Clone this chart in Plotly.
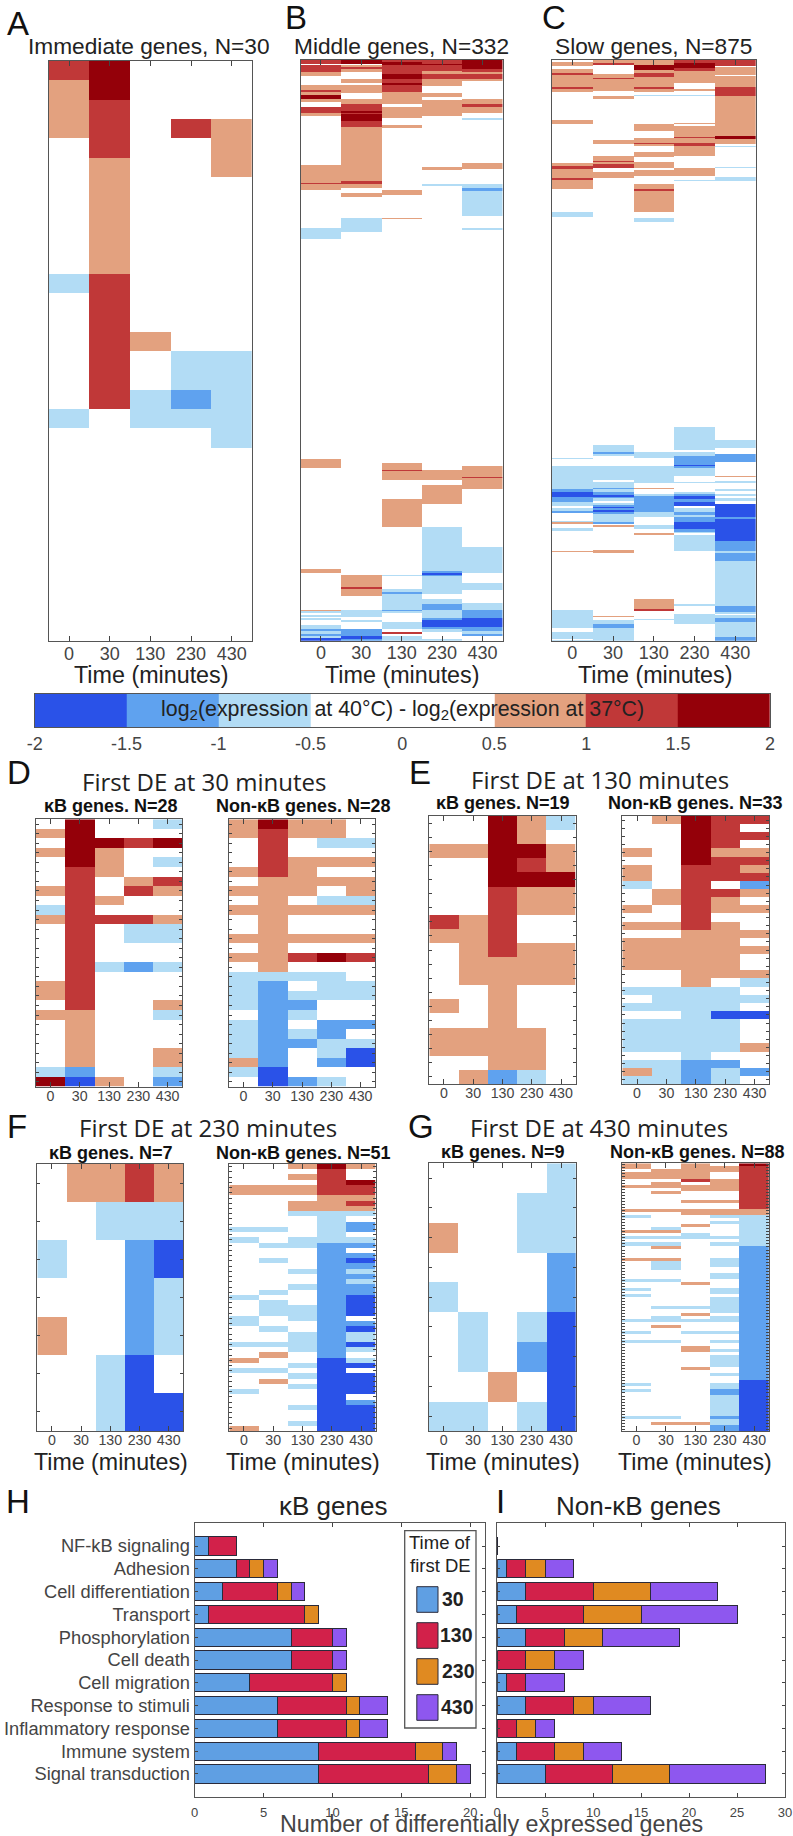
import numpy as np
import plotly.graph_objects as go

W, H = 793, 1836
TIMES = ["0", "30", "130", "230", "430"]
LEVELS = [-3, -2, -1, 0, 1, 2, 3]
LEVEL_COLORS = ["#2a52e8", "#5fa2ef", "#b2dcf5", "#ffffff", "#e3a17f", "#c03838", "#940009"]
CBAR_EDGES = [-2, -1.5, -1, -0.5, 0.5, 1, 1.5, 2]
CBAR_TICKS = [-2, -1.5, -1, -0.5, 0, 0.5, 1, 1.5, 2]

# Panel A: rows of expression classes
A_ROWS = [
 [2,3,0,0,0],[1,3,0,0,0],[1,2,0,0,0],[1,2,0,2,1],[0,2,0,0,1],[0,1,0,0,1],[0,1,0,0,0],[0,1,0,0,0],
 [0,1,0,0,0],[0,1,0,0,0],[0,1,0,0,0],[-1,2,0,0,0],[0,2,0,0,0],[0,2,0,0,0],[0,2,1,0,0],[0,2,0,-1,-1],
 [0,2,0,-1,-1],[0,2,-1,-2,-1],[-1,0,-1,-1,-1],[0,0,0,0,-1],[0,0,0,0,0],[0,0,0,0,0],[0,0,0,0,0],
 [0,0,0,0,0],[0,0,0,0,0],[0,0,0,0,0],[0,0,0,0,0],[0,0,0,0,0],[0,0,0,0,0],[0,0,0,0,0]]

# Panels B, C: per time point, runs of (end row, class)
B_T0 = [(2,2),(3,0),(7,2),(9,1),(14,0),(17,1),(18,2),(20,1),(22,3),(24,1),(27,0),(30,2),(32,1),(60,0),(70,1),(71,2),(74,1),(96,0),(102,-1),(228,0),(233,1),(291,0),(293,1),(314,0),(315,1),(316,-1),(317,0),(318,-1),(319,0),(320,-1),(323,0),(325,-1),(326,-2),(328,-1),(329,-2),(330,-1),(332,-3)]
B_T1 = [(2,3),(3,0),(4,1),(5,2),(7,1),(11,0),(13,1),(14,0),(19,1),(22,0),(25,1),(29,2),(30,3),(31,2),(35,3),(38,2),(69,1),(71,2),(73,1),(76,0),(78,1),(90,0),(98,-1),(294,0),(301,1),(302,2),(306,1),(314,0),(318,-1),(320,0),(321,-1),(325,0),(329,-2),(331,-3),(332,-2)]
B_T2 = [(1,2),(3,3),(8,2),(11,3),(13,2),(14,3),(18,2),(25,1),(27,0),(33,1),(37,0),(39,1),(74,0),(77,1),(90,0),(91,1),(230,0),(234,1),(235,2),(240,1),(251,0),(267,1),(294,0),(295,-1),(302,0),(304,-1),(305,-2),(314,-1),(315,-2),(316,-1),(321,0),(325,-1),(327,0),(328,2),(329,0),(332,-1)]
B_T3 = [(2,2),(3,3),(6,2),(8,1),(11,2),(15,1),(19,0),(21,1),(23,0),(32,1),(61,0),(63,1),(71,0),(72,-1),(234,0),(240,1),(243,0),(254,1),(267,0),(292,-1),(293,-2),(294,-3),(295,-2),(305,-1),(308,0),(311,-1),(314,-2),(319,-1),(320,-2),(324,-3),(325,-2),(327,-1),(331,0),(332,-1)]
B_T4 = [(5,3),(7,2),(8,1),(11,2),(12,1),(22,0),(25,1),(27,2),(30,1),(33,0),(34,-1),(59,0),(62,1),(71,0),(73,-1),(75,-2),(89,-1),(96,0),(97,-1),(232,0),(238,1),(239,2),(245,1),(278,0),(293,-1),(299,0),(303,-1),(310,0),(314,-1),(319,-2),(324,-3),(326,-2),(328,-1),(329,-2),(332,0)]

C_T0 = [(3,0),(9,1),(14,0),(20,1),(23,2),(41,1),(43,2),(48,1),(91,0),(97,1),(155,0),(160,1),(164,2),(178,1),(180,2),(195,1),(229,0),(237,-1),(599,0),(601,-1),(605,0),(606,1),(612,0),(629,-1),(630,-2),(646,-1),(650,-2),(658,-3),(660,-2),(665,-2),(671,-1),(675,0),(679,-1),(682,-2),(694,0),(696,-1),(699,1),(705,0),(709,-1),(739,0),(741,1),(828,0),(840,-1),(841,-2),(855,-1),(862,0),(872,-1),(873,0),(875,-1)]
C_T1 = [(4,1),(7,2),(21,0),(27,1),(28,2),(47,1),(54,0),(58,1),(120,0),(127,1),(144,0),(152,1),(153,2),(157,1),(162,2),(163,1),(168,0),(178,1),(580,0),(591,-1),(593,-2),(596,-1),(611,0),(632,-1),(636,0),(644,-1),(646,-2),(651,-1),(655,-2),(658,-3),(660,-2),(664,-1),(667,0),(670,-1),(673,-2),(675,-3),(678,-2),(680,-3),(683,-2),(696,-1),(699,-2),(701,0),(703,1),(712,0),(713,1),(738,0),(742,1),(837,0),(839,1),(843,0),(850,-1),(856,-2),(875,-1)]
C_T2 = [(7,1),(15,3),(20,1),(26,2),(41,1),(43,2),(48,1),(52,0),(54,-1),(97,0),(107,1),(117,0),(125,1),(127,2),(129,1),(138,0),(146,1),(154,0),(162,1),(165,0),(174,1),(186,0),(194,1),(197,2),(229,1),(238,0),(244,-1),(591,0),(599,-1),(612,0),(637,-1),(644,0),(646,1),(654,0),(657,-1),(681,-2),(688,-1),(701,0),(706,-1),(712,0),(715,1),(812,0),(827,1),(830,2),(842,0),(844,-1),(849,0),(850,-1),(875,0)]
C_T3 = [(4,2),(12,3),(16,2),(34,1),(44,0),(46,1),(53,0),(54,-1),(95,0),(97,1),(99,0),(116,1),(117,2),(125,1),(130,2),(145,1),(162,0),(175,1),(180,0),(182,-1),(553,0),(587,-1),(591,0),(596,-1),(610,-2),(612,-3),(615,-2),(627,-1),(635,0),(637,-1),(651,0),(654,-1),(657,-2),(661,-3),(666,-2),(671,-3),(675,0),(680,-1),(685,-2),(689,-1),(696,-2),(706,-3),(711,-2),(713,-1),(715,0),(740,-1),(819,0),(822,-1),(834,0),(850,-1),(875,0)]
C_T4 = [(9,2),(11,0),(22,1),(24,0),(41,1),(54,2),(114,1),(119,3),(127,1),(129,0),(131,-1),(161,0),(163,-1),(176,0),(182,-1),(573,0),(584,-1),(594,0),(606,-2),(626,0),(628,1),(634,0),(637,-1),(646,0),(649,-1),(654,0),(656,-1),(660,0),(664,-1),(669,0),(688,-3),(691,-2),(724,-3),(740,-2),(742,-1),(754,-2),(822,-1),(831,-2),(834,-1),(836,0),(840,-1),(847,-2),(869,-1),(875,-2)]

D_KB = [[0,3,0,0,-1],[1,3,0,0,0],[0,3,3,2,3],[1,3,1,0,0],[0,3,1,0,-1],[0,2,1,0,0],[0,2,0,1,2],[1,2,0,2,1],[0,2,1,0,0],[-1,2,0,0,0],[1,2,2,2,1],[0,2,0,-1,-1],[0,2,0,-1,-1],[0,2,0,0,0],[0,2,0,0,0],[0,2,-1,-2,-1],[0,2,0,0,0],[1,2,0,0,0],[1,2,0,0,0],[0,2,0,0,1],[1,1,0,0,-1],[0,1,0,0,0],[0,1,0,0,0],[0,1,0,0,0],[0,1,0,0,1],[0,1,0,0,1],[-1,-2,0,0,-1],[3,-3,1,0,-2]]
D_NON = [[1,3,1,1,0],[1,2,1,1,0],[0,2,0,-1,-1],[0,2,0,0,0],[0,2,1,1,1],[1,2,1,0,0],[0,1,1,1,1],[1,1,1,0,1],[0,1,0,-1,-1],[1,1,1,1,1],[0,1,0,0,0],[0,1,0,0,0],[1,1,1,1,1],[0,1,0,0,0],[1,1,2,3,2],[0,1,0,0,0],[-1,-1,-1,-1,0],[-1,-2,0,-1,-1],[-1,-2,-1,-1,-1],[-1,-2,-2,0,0],[0,-2,-1,0,0],[-1,-2,0,-2,-2],[-1,-2,-1,-2,0],[-1,-2,-2,-1,-1],[-1,-2,0,-1,-3],[1,-2,0,-2,-3],[-1,-3,0,0,0],[0,-3,-2,-1,0]]
E_KB = [[0,0,3,1,-1],[0,0,3,1,0],[1,1,3,3,1],[0,0,3,2,1],[0,0,3,3,3],[0,0,2,1,1],[0,0,2,1,1],[2,1,2,0,0],[1,1,2,0,0],[0,1,2,1,1],[0,1,1,1,1],[0,1,1,1,1],[0,0,1,0,0],[1,0,1,0,0],[0,0,1,0,0],[1,1,1,1,0],[1,1,1,1,0],[0,0,1,1,0],[0,1,-2,-1,0]]
E_NON = [[0,1,3,2,2],[0,0,3,2,0],[0,0,3,2,2],[0,0,3,2,0],[1,0,3,1,1],[0,0,3,2,2],[1,0,2,2,1],[1,0,2,2,2],[-1,0,2,0,-2],[0,1,2,2,1],[0,1,2,1,0],[1,0,2,1,1],[0,0,2,0,0],[1,1,2,1,0],[0,0,1,1,1],[1,1,1,1,0],[1,1,1,1,1],[1,1,1,1,0],[1,1,1,1,0],[0,0,1,1,1],[0,0,1,0,-1],[-1,-1,-1,-1,0],[0,-1,-1,-1,-1],[-1,-1,-1,-1,0],[0,0,-1,-3,-3],[-1,-1,-1,-1,0],[-1,-1,-1,-1,0],[-1,-1,-1,-1,0],[-1,-1,-1,-1,1],[0,0,-1,0,0],[-1,-1,-2,-2,0],[1,-1,-2,-1,-2],[-1,-1,-2,-1,0]]
F_KB = [[0,1,1,2,1],[0,0,-1,-1,-1],[-1,0,0,-2,-3],[0,0,0,-2,-1],[1,0,0,-2,-1],[0,0,-1,-3,0],[0,0,-1,-3,-3]]
F_NON_T0 = [(4,0),(6,1),(12,0),(13,-1),(14,0),(15,-1),(25,0),(26,-1),(29,0),(31,-1),(34,0),(35,-1),(37,0),(38,1),(39,0),(40,-1),(43,0),(44,-1),(50,0),(51,1)]
F_NON_T1 = [(4,0),(6,1),(12,0),(13,-1),(15,0),(16,-1),(18,0),(19,-1),(24,0),(25,-1),(26,0),(29,-1),(31,0),(32,-1),(34,0),(35,-1),(36,0),(37,1),(39,0),(40,-1),(41,0),(42,1),(51,0)]
F_NON_T2 = [(1,1),(2,0),(3,1),(4,0),(6,1),(7,0),(9,1),(10,-1),(14,0),(16,-1),(20,0),(21,-1),(23,0),(24,-1),(27,0),(30,-1),(32,0),(36,-1),(38,0),(39,-1),(40,0),(41,-1),(42,0),(43,-1),(46,0),(47,-1),(49,0),(50,-1),(51,0)]
F_NON_T3 = [(1,3),(6,2),(9,1),(15,-1),(37,-2),(51,-3)]
F_NON_T4 = [(1,1),(3,0),(4,3),(6,2),(7,1),(8,2),(9,1),(10,-1),(11,0),(13,-2),(14,0),(15,-1),(16,-2),(17,0),(18,-2),(19,-3),(20,-2),(21,-1),(22,-2),(23,-1),(25,-2),(29,-3),(30,0),(31,-2),(32,-3),(34,-1),(35,-3),(36,-1),(37,0),(38,-1),(39,-3),(40,0),(44,-3),(45,0),(46,-2),(51,-3)]
G_KB = [[0,0,0,0,-1],[0,0,0,-1,-1],[1,0,0,-1,-1],[0,0,0,0,-2],[-1,0,0,0,-2],[0,-1,0,-1,-3],[0,-1,0,-2,-3],[0,0,1,0,-3],[-1,-1,0,-1,-3]]
G_NON_T0 = [(2,1),(3,0),(5,1),(7,0),(8,1),(15,0),(16,1),(17,0),(18,-1),(22,0),(23,1),(24,0),(25,-1),(26,0),(27,-1),(31,0),(32,1),(38,0),(39,-1),(41,0),(42,-1),(43,0),(44,-1),(51,0),(52,-1),(55,0),(56,-1),(58,0),(59,-1),(72,0),(73,-1),(74,0),(75,-1),(83,0),(84,-1),(88,0)]
G_NON_T1 = [(2,0),(5,1),(6,0),(8,1),(9,0),(10,1),(15,0),(16,1),(21,0),(22,-1),(23,1),(24,0),(25,-1),(26,0),(27,-1),(28,1),(31,0),(32,1),(35,-1),(38,0),(39,-1),(47,0),(48,-1),(50,0),(52,-1),(53,0),(54,1),(58,0),(59,-1),(83,0),(84,-1),(85,0),(86,1),(88,0)]
G_NON_T2 = [(5,1),(6,2),(7,0),(9,1),(12,0),(13,1),(15,0),(17,1),(20,0),(21,1),(23,0),(25,-1),(39,0),(40,1),(47,0),(48,-1),(49,0),(50,1),(51,0),(52,-1),(55,0),(56,-1),(60,0),(62,1),(67,0),(68,1),(85,0),(86,1),(88,0)]
G_NON_T3 = [(1,0),(3,1),(5,0),(9,1),(12,0),(13,1),(15,0),(17,1),(18,-1),(19,0),(20,-1),(24,0),(25,-1),(26,0),(27,-1),(31,0),(34,-1),(36,0),(38,-1),(41,0),(43,-1),(44,0),(49,-1),(50,0),(52,-1),(55,0),(56,-1),(58,0),(59,-1),(61,0),(62,-1),(63,0),(67,-1),(69,0),(70,-1),(72,0),(74,-1),(76,-2),(83,-1),(84,-2),(86,-1),(88,-2)]
G_NON_T4 = [(1,3),(15,2),(17,1),(27,-1),(71,-2),(88,-3)]

# Panels H, I
TERMS = ["NF-kB signaling","Adhesion","Cell differentiation","Transport","Phosphorylation","Cell death","Cell migration","Response to stimuli","Inflammatory response","Immune system","Signal transduction"]
DE_TIMES = ["30","130","230","430"]
DE_COLORS = ["#5f9fe3","#d2214a","#e08a21","#8e57ef"]
H_30  = [1,3,2,1,7,7,4,6,6,9,9]
H_130 = [2,1,4,7,3,3,6,5,5,7,8]
H_230 = [0,1,1,1,0,0,1,1,1,2,2]
H_430 = [0,1,1,0,1,1,0,2,2,1,1]
I_30  = [0,1,3,2,3,0,1,3,0,2,5]
I_130 = [0,2,7,7,4,3,2,5,2,4,7]
I_230 = [0,2,6,6,4,3,0,2,2,3,6]
I_430 = [0,3,7,10,8,3,4,6,2,4,10]

def from_runs(*cols):
    out = []
    for runs in cols:
        col, start = [], 0
        for end, lev in runs:
            col += [lev] * (end - start)
            start = end
        out.append(col)
    return np.array(out).T

SANS = "Liberation Sans"
DARK = "#222222"
GREY = "#444444"
AXC = "#555555"
AXW = 1.2

n = len(LEVELS)
CS = []
for i, c in enumerate(LEVEL_COLORS):
    CS += [[i / n, c], [(i + 1) / n, c]]

fig = go.Figure()
layout = {}
anns = []
axn = [0]

def px_dom(x0, x1, y0, y1):
    return [x0 / W, x1 / W], [1 - y1 / H, 1 - y0 / H]

def next_axes(x0, x1, y0, y1):
    axn[0] += 1
    k = axn[0]
    dx, dy = px_dom(x0, x1, y0, y1)
    xk, yk = ("xaxis", "yaxis") if k == 1 else (f"xaxis{k}", f"yaxis{k}")
    xr, yr = ("x", "y") if k == 1 else (f"x{k}", f"y{k}")
    return xk, yk, xr, yr, dx, dy

def heat(mat, box, fsize, rowticks):
    mat = np.asarray(mat)
    xk, yk, xr, yr, dx, dy = next_axes(*box)
    nrow = mat.shape[0]
    fig.add_trace(go.Heatmap(z=mat, x=list(range(5)), y=list(range(nrow)), xaxis=xr, yaxis=yr,
                             colorscale=CS, zmin=-3.5, zmax=3.5, showscale=False, hoverinfo="skip", xgap=0, ygap=0))
    layout[xk] = dict(domain=dx, anchor=yr, range=[-0.5, 4.5], tickmode="array", tickvals=list(range(5)), ticktext=TIMES,
                      ticks="inside", ticklen=5, tickcolor="#444", tickwidth=1, showline=True, linecolor=AXC, linewidth=AXW,
                      mirror="ticks", showgrid=False, zeroline=False, tickangle=0, automargin=False,
                      ticklabelstandoff=-4, tickfont=dict(family=SANS, size=fsize, color=GREY))
    y = dict(domain=dy, anchor=xr, range=[nrow - 0.5, -0.5], showticklabels=False, showline=True, linecolor=AXC,
             linewidth=AXW, showgrid=False, zeroline=False, automargin=False)
    if rowticks:
        y.update(mirror="ticks", ticks="inside", ticklen=3, tickcolor="#444", tickwidth=1, tickmode="array",
                 tickvals=list(range(nrow)))
    else:
        y.update(mirror=True, ticks="")
    layout[yk] = y

def text(s, x, y, size, color=DARK, family=SANS, anchor="center"):
    anns.append(dict(text=s, x=x / W, y=1 - y / H, xref="paper", yref="paper", showarrow=False,
                     xanchor=anchor, yanchor="middle", font=dict(family=family, size=size, color=color)))

# Top row
heat(A_ROWS, (48.7, 252, 61, 641), 18, False)
heat(from_runs(B_T0, B_T1, B_T2, B_T3, B_T4), (300.7, 502.7, 60, 640.7), 18, False)
heat(from_runs(C_T0, C_T1, C_T2, C_T3, C_T4), (552, 755.7, 60, 640.7), 18, False)

# Colour bar
xk, yk, xr, yr, dx, dy = next_axes(34.7, 770, 694, 727)
fig.add_trace(go.Heatmap(z=[LEVELS], x=CBAR_EDGES, xaxis=xr, yaxis=yr, colorscale=CS, zmin=-3.5, zmax=3.5,
                         showscale=False, hoverinfo="skip"))
layout[xk] = dict(domain=dx, anchor=yr, range=[-2, 2], tickmode="array", tickvals=CBAR_TICKS,
                  ticktext=[f"{t:g}" for t in CBAR_TICKS], ticks="", showline=True, linecolor=AXC, linewidth=AXW, mirror=True,
                  showgrid=False, zeroline=False, automargin=False, tickfont=dict(family=SANS, size=18, color=GREY))
layout[yk] = dict(domain=dy, anchor=xr, showticklabels=False, ticks="", showline=True, linecolor=AXC, linewidth=AXW,
                  mirror=True, showgrid=False, zeroline=False, automargin=False)

# Small panels
heat(D_KB, (35.7, 182.3, 819.3, 1086.7), 14.2, True)
heat(D_NON, (228.7, 375.3, 819.3, 1086.7), 14.2, True)
heat(E_KB, (429.3, 575.7, 816, 1084), 14.2, True)
heat(E_NON, (622.3, 769.3, 816, 1084), 14.2, True)
heat(F_KB, (37.3, 183.3, 1164, 1431), 14.2, True)
heat(from_runs(F_NON_T0, F_NON_T1, F_NON_T2, F_NON_T3, F_NON_T4), (229.3, 375.7, 1164, 1431), 14.2, True)
heat(G_KB, (429, 575.7, 1163.3, 1431), 14.2, True)
heat(from_runs(G_NON_T0, G_NON_T1, G_NON_T2, G_NON_T3, G_NON_T4), (621.7, 769, 1163.3, 1431), 14.2, True)

# Bars
def bars(series, box, xrange, dtick, labels):
    xk, yk, xr, yr, dx, dy = next_axes(*box)
    for name, vals, col in zip(DE_TIMES, series, DE_COLORS):
        fig.add_trace(go.Bar(x=vals, y=TERMS, orientation="h", name=name, xaxis=xr, yaxis=yr, width=0.8,
                             marker=dict(color=col, line=dict(color="#2a2a3a", width=1)), showlegend=False, hoverinfo="skip"))
    layout[xk] = dict(domain=dx, anchor=yr, range=xrange, dtick=dtick, tick0=0, ticks="inside", ticklen=4, tickcolor="#444",
                      showline=True, linecolor=AXC, linewidth=AXW, mirror="ticks", showgrid=False, zeroline=False, automargin=False,
                      ticklabelstandoff=4, tickfont=dict(family=SANS, size=13, color=GREY))
    layout[yk] = dict(domain=dy, anchor=xr, type="category", categoryorder="array", categoryarray=TERMS,
                      tickmode="array", tickvals=TERMS, ticktext=TERMS, automargin=False,
                      range=[11.0, -1.0], showticklabels=labels, ticks="inside", ticklen=3, tickcolor="#444",
                      showline=True, linecolor=AXC, linewidth=AXW, mirror="ticks", showgrid=False, zeroline=False,
                      tickfont=dict(family=SANS, size=18.3, color=GREY))

bars([H_30, H_130, H_230, H_430], (194.7, 484.6, 1523.3, 1796.7), [0, 21.05], 5, True)
bars([I_30, I_130, I_230, I_430], (497.2, 785, 1523.3, 1796.7), [0, 30], 5, False)

# Texts
for s, x, y in [("A", 5, 23), ("B", 283, 18), ("C", 540, 18), ("D", 5, 772), ("E", 407, 772), ("F", 5, 1126),
                ("G", 406, 1126), ("H", 4, 1501), ("I", 494, 1501)]:
    text(s, x, y, 33, "#111", anchor="left")
text("Immediate genes, N=30", 148.5, 46, 22.7)
text("Middle genes, N=332", 401, 46, 22.7)
text("Slow genes, N=875", 653, 46, 22.7)
for x in (150.8, 402, 655):
    text("Time (minutes)", x, 675, 23.3)
text("log<sub>2</sub>(expression at 40°C) - log<sub>2</sub>(expression at 37°C)", 402, 710, 21.4)
OPEN = "Open Sans"
text("First DE at 30 minutes", 204, 781, 24, family=OPEN)
text("First DE at 130 minutes", 600, 779, 24, family=OPEN)
text("First DE at 230 minutes", 208, 1127, 24, family=OPEN)
text("First DE at 430 minutes", 599, 1127, 24, family=OPEN)
for s, x, y in [("κB genes. N=28", 111, 806.5), ("Non-κB genes. N=28", 303, 806.5), ("κB genes. N=19", 503, 802.5),
                ("Non-κB genes. N=33", 695.5, 802.5), ("κB genes. N=7", 111, 1153), ("Non-κB genes. N=51", 303, 1153),
                ("κB genes. N=9", 503, 1152), ("Non-κB genes. N=88", 697, 1152)]:
    text(f"<b>{s}</b>", x, y, 18, "#111")
for x in (111, 303, 503, 695):
    text("Time (minutes)", x, 1461.5, 23.2)
text("κB genes", 333, 1506, 26)
text("Non-κB genes", 638, 1506, 26)
text("Number of differentially expressed genes", 492, 1824, 23.3, GREY)

# Legend box
shapes = [dict(type="rect", xref="paper", yref="paper", x0=404.7 / W, x1=476 / W, y0=1 - 1728 / H, y1=1 - 1530.7 / H,
               line=dict(color=AXC, width=1.3), fillcolor="white", layer="above")]
text("Time of", 440, 1542.5, 18.5)
text("first DE", 440, 1565, 18.5)
for lab, col, y0, xt in zip(DE_TIMES, DE_COLORS, (1586.7, 1622.7, 1658.7, 1694.7), (453, 456, 458, 457)):
    shapes.append(dict(type="rect", xref="paper", yref="paper", x0=416.8 / W, x1=438 / W, y0=1 - (y0 + 25.6) / H, y1=1 - y0 / H,
                       line=dict(color="#2a2a3a", width=1), fillcolor=col, layer="above"))
    text(f"<b>{lab}</b>", xt, y0 + 12, 19.5)

fig.update_layout(width=W, height=H, autosize=False, margin=dict(l=0, r=0, t=0, b=0, autoexpand=False),
                  plot_bgcolor="white", paper_bgcolor="white",
                  barmode="stack", showlegend=False, annotations=anns, shapes=shapes, **layout)
fig.write_html("out.html", config=dict(displayModeBar=False),
               post_script="document.body.style.margin='0';document.documentElement.style.overflow='hidden';")
